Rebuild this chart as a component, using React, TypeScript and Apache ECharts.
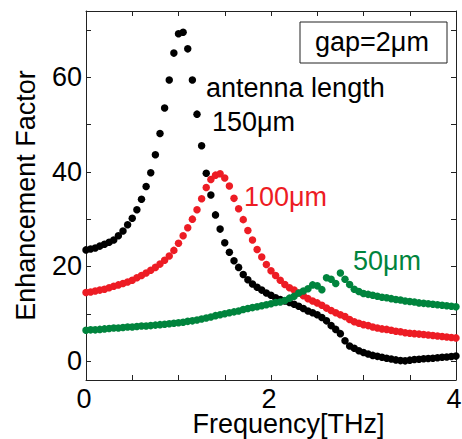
import React, { useEffect, useRef } from "react";
import * as echarts from "echarts";

// Frequency grid (THz): samples every 0.05 THz from 0 to 4
const FREQ_STEP = 0.05;

// Enhancement factor, antenna length 150 µm (black)
const len150 = [
  23.5, 23.7, 23.9, 24.3, 24.7, 25.1, 25.6, 26.5, 27.5, 28.8,
  30.2, 32.0, 34.2, 36.9, 39.8, 43.6, 48.1, 53.5, 59.4, 65.1,
  69.2, 69.5, 66.0, 59.4, 52.2, 45.5, 39.7, 35.1, 30.9, 27.9,
  25.0, 23.0, 21.2, 19.8, 18.3, 17.2, 16.3, 15.6, 15.0, 14.4,
  13.9, 13.4, 13.0, 12.7, 12.4, 12.0, 11.6, 11.1, 10.6, 10.2,
  9.8, 9.2, 8.5, 7.5, 6.7, 5.8, 4.3, 3.2, 2.7, 2.2,
  1.8, 1.5, 1.2, 1.0, 0.8, 0.6, 0.45, 0.25, 0.1, 0.05,
  0.2, 0.35, 0.4, 0.5, 0.55, 0.6, 0.7, 0.8, 0.85, 0.95,
  1.05,
];

// Enhancement factor, antenna length 100 µm (red)
const len100 = [
  14.5, 14.6, 14.8, 15.0, 15.2, 15.5, 15.8, 16.1, 16.4, 16.7,
  17.1, 17.6, 18.1, 18.6, 19.2, 19.8, 20.5, 21.3, 22.2, 23.4,
  24.9, 26.5, 28.2, 30.0, 32.0, 34.3, 36.7, 38.4, 39.3, 39.6,
  38.7, 37.0, 34.4, 32.2, 29.9, 27.6, 25.6, 23.6, 22.0, 20.4,
  19.1, 18.1, 17.1, 16.2, 15.5, 15.0, 14.4, 13.8, 13.2, 12.7,
  12.3, 11.8, 11.2, 10.7, 10.2, 9.8, 9.4, 8.8, 8.3, 8.0,
  7.7, 7.5, 7.2, 7.0, 6.8, 6.7, 6.5, 6.3, 6.2, 6.0,
  5.9, 5.8, 5.7, 5.6, 5.5, 5.4, 5.3, 5.2, 5.1, 5.0,
  4.9,
];

// Enhancement factor, antenna length 50 µm (green)
const len50 = [
  6.5, 6.6, 6.6, 6.7, 6.8, 6.9, 7.0, 7.0, 7.1, 7.2,
  7.2, 7.3, 7.4, 7.4, 7.5, 7.6, 7.7, 7.8, 7.9, 8.0,
  8.1, 8.2, 8.4, 8.5, 8.7, 8.9, 9.1, 9.3, 9.6, 9.8,
  10.0, 10.2, 10.4, 10.6, 10.9, 11.1, 11.3, 11.5, 11.7, 11.9,
  12.1, 12.4, 12.5, 12.8, 13.3, 13.7, 14.4, 14.8, 15.3, 16.1,
  15.9, 15.1, 17.6, 17.3, 16.4, 18.6, 17.3, 16.2, 15.2, 14.7,
  14.3, 14.1, 13.9, 13.7, 13.5, 13.4, 13.2, 13.0, 12.9, 12.7,
  12.6, 12.5, 12.3, 12.2, 12.1, 12.0, 11.9, 11.8, 11.7, 11.6,
  11.5,
];

const xTickLabels = [0, 2, 4];
const yTickLabels = [0, 20, 40, 60];

const FONT = "'Liberation Sans', Arial, sans-serif";
const BLACK = "#000000";
const RED = "#ed1c24";
const GREEN = "#00843d";
const AXIS = "#222222";

const toPairs = (vals: number[]) =>
  vals.map((v, i) => [Number((i * FREQ_STEP).toFixed(2)), v]);

export default function App() {
  const ref = useRef<HTMLDivElement>(null);

  useEffect(() => {
    document.body.style.margin = "0";
    if (!ref.current) return;
    const chart = echarts.init(ref.current, undefined, { renderer: "svg" });

    const axisLine = { show: true, onZero: false, lineStyle: { color: AXIS, width: 1 } };
    const axisTick = { show: true, inside: true, length: 5, lineStyle: { color: AXIS, width: 1 } };

    const series = [
      { name: "150μm", data: toPairs(len150), color: BLACK },
      { name: "100μm", data: toPairs(len100), color: RED },
      { name: "50μm", data: toPairs(len50), color: GREEN },
    ].map((s) => ({
      type: "scatter",
      name: s.name,
      data: s.data,
      symbol: "circle",
      symbolSize: 7.5,
      itemStyle: { color: s.color, opacity: 1 },
      silent: true,
      xAxisIndex: 0,
      yAxisIndex: 0,
    }));

    chart.setOption({
      animation: false,
      backgroundColor: "#ffffff",
      grid: { left: 86, right: 6, top: 11, bottom: 59, outerBoundsMode: "none", containLabel: false },
      xAxis: [
        {
          type: "value",
          position: "bottom",
          min: 0,
          max: 4,
          interval: 0.5,
          name: "Frequency[THz]",
          nameLocation: "middle",
          nameGap: 32,
          nameMoveOverlap: false,
          nameTextStyle: {
            fontSize: 27,
            lineHeight: 24,
            color: BLACK,
            fontFamily: FONT,
            padding: [0, 0, 0, 35],
          },
          axisLine,
          axisTick,
          axisLabel: {
            fontSize: 27,
            lineHeight: 22,
            color: BLACK,
            fontFamily: FONT,
            margin: 8,
            padding: [0, 4, 0, 0],
            formatter: (v: number) => (xTickLabels.includes(v) ? String(v) : ""),
          },
          splitLine: { show: false },
        },
        {
          type: "value",
          position: "top",
          min: 0,
          max: 4,
          interval: 0.5,
          axisLine,
          axisTick,
          axisLabel: { show: false },
          splitLine: { show: false },
        },
      ],
      yAxis: [
        {
          type: "value",
          position: "left",
          min: -4,
          max: 74,
          minInterval: 10,
          maxInterval: 10,
          splitNumber: 8,
          name: "Enhancement Factor",
          nameLocation: "middle",
          nameGap: 47,
          nameMoveOverlap: false,
          nameTextStyle: { fontSize: 27, color: BLACK, fontFamily: FONT },
          axisLine,
          axisTick,
          axisLabel: {
            fontSize: 27,
            color: BLACK,
            fontFamily: FONT,
            margin: 4,
            formatter: (v: number) => (yTickLabels.includes(v) ? String(v) : ""),
          },
          splitLine: { show: false },
        },
        {
          type: "value",
          position: "right",
          min: -4,
          max: 74,
          minInterval: 10,
          maxInterval: 10,
          splitNumber: 8,
          axisLine,
          axisTick,
          axisLabel: { show: false },
          splitLine: { show: false },
        },
      ],
      graphic: [
        {
          type: "rect",
          z: 100,
          shape: { x: 300, y: 22, width: 147, height: 41 },
          style: { fill: "#ffffff", stroke: AXIS, lineWidth: 1 },
        },
        {
          type: "text",
          z: 101,
          x: 315,
          y: 42,
          style: { text: "gap=2μm", fontSize: 27, fontFamily: FONT, fill: BLACK, verticalAlign: "middle" },
        },
        {
          type: "text",
          z: 101,
          x: 206,
          y: 88,
          style: { text: "antenna length", fontSize: 27, fontFamily: FONT, fill: BLACK, verticalAlign: "middle" },
        },
        {
          type: "text",
          z: 101,
          x: 212,
          y: 122,
          style: { text: "150μm", fontSize: 27, fontFamily: FONT, fill: BLACK, verticalAlign: "middle" },
        },
        {
          type: "text",
          z: 101,
          x: 244,
          y: 197,
          style: { text: "100μm", fontSize: 27, fontFamily: FONT, fill: RED, verticalAlign: "middle" },
        },
        {
          type: "text",
          z: 101,
          x: 353,
          y: 261,
          style: { text: "50μm", fontSize: 27, fontFamily: FONT, fill: GREEN, verticalAlign: "middle" },
        },
      ],
      series,
    });

    return () => chart.dispose();
  }, []);

  return <div ref={ref} style={{ width: 462, height: 439 }} />;
}
